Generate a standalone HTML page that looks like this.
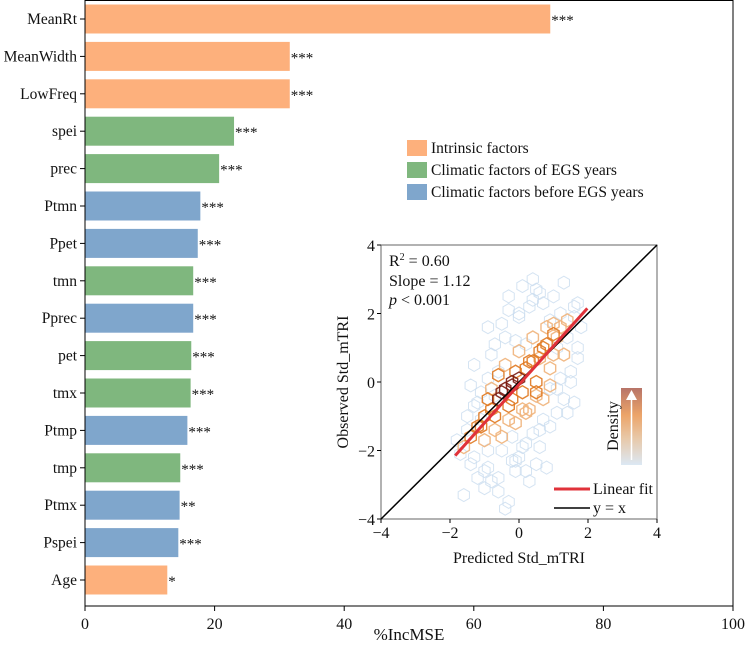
<!DOCTYPE html>
<html><head><meta charset="utf-8"><style>
body{margin:0;background:#fff}
svg text{font-family:"Liberation Serif",serif;fill:#111}
</style></head><body>
<svg id="c" width="748" height="643" viewBox="0 0 748 643" xmlns="http://www.w3.org/2000/svg"></svg>
<script>
const categories=["MeanRt","MeanWidth","LowFreq","spei","prec","Ptmn","Ppet","tmn","Pprec","pet","tmx","Ptmp","tmp","Ptmx","Pspei","Age"];
const values=[71.8,31.6,31.6,23.0,20.7,17.8,17.4,16.7,16.7,16.4,16.3,15.8,14.7,14.6,14.4,12.7];
const groups=["i","i","i","c","c","b","b","c","b","c","c","b","c","b","b","i"];
const sig=["***","***","***","***","***","***","***","***","***","***","***","***","***","**","***","*"];
const xTicks=[0,20,40,60,80,100];
const groupNames=["Intrinsic factors","Climatic factors of EGS years","Climatic factors before EGS years"];
// hexbins: [predicted, observed, densityLevel 0-3]
const hexX=[-1.4,-1.2,-1.0,-0.8,-0.6,-0.4,-0.2,0,0.2,0.4,0.6,0.8,1.0,1.2,1.4,1.6,-1.6,-1.3,-0.9,-0.5,-0.1,0.3,0.7,1.1,1.5,-1.1,-0.7,-0.3,0.1,0.5,0.9,1.3,-0.9,-0.5,-0.1,0.3,0.7,1.1,-0.7,-0.3,0.1,0.5,0.9,-1.2,-0.8,-0.4,0,0.4,0.8,1.2,-0.6,-0.2,0.2,0.6,1.0,-1.0,-0.6,-0.2,0.2,0.6,-0.8,-0.4,0,0.4,-1.3,-0.9,0.2,0.9,1.4,-1.6,-0.4,-0.9,0.6,1.7,-0.2,0.5,1.0,-1.0,
 -1.8,-1.7,-1.5,-1.4,-1.2,-1.1,-1.0,-0.8,-0.7,-0.6,-0.5,-0.3,-0.2,-0.1,0.0,0.1,0.3,0.4,0.5,0.7,0.8,0.9,1.1,1.2,1.3,1.5,1.6,1.7,1.8,-1.5,-1.3,-1.1,-0.9,-0.7,-0.5,-0.3,-0.1,0.1,0.3,0.5,0.7,1.0,1.3,1.6,-0.3,0.0,0.2,0.9,1.4,-1.4,-0.6,0.4,1.1,1.7,-0.1,0.6];
const hexY=[-1.6,-1.3,-1.0,-0.8,-0.5,-0.2,0.0,0.1,0.4,0.6,0.9,1.1,1.4,1.6,1.8,2.2,-1.9,-2.2,-2.0,-1.6,-1.2,-0.8,-0.5,-0.2,0.3,-1.3,-1.0,-0.7,-0.3,0.0,0.4,0.8,-0.5,-0.3,0.3,0.6,1.0,1.3,-1.4,-1.1,-0.8,-0.4,-0.1,-0.6,-0.2,0.5,0.9,1.3,1.6,2.0,0.2,-0.5,-0.9,0.7,0.8,-2.6,-2.8,-2.3,-1.8,-1.4,0.8,1.3,1.9,2.4,0.5,1.6,-2.6,-1.3,-0.9,-3.3,-3.7,-2.5,2.6,0.7,-0.1,-0.3,1.7,-1.7,
 -1.7,-2.1,-1.4,-2.4,-2.8,-1.1,-3.1,-2.9,-0.4,-3.2,-2.0,-3.5,-1.6,-2.6,-2.2,-1.9,-2.9,-1.5,-2.4,-1.1,-2.5,-0.2,-0.9,0.1,-0.5,0.0,-0.6,2.3,1.6,-1.0,-0.7,-0.3,0.1,1.1,1.7,2.1,1.2,2.8,2.2,2.7,2.3,2.5,2.9,1.9,2.5,2.0,1.1,1.8,1.3,-0.1,0.3,3.0,1.0,1.0,-2.3,-1.9];
const hexD=[2,2,2,2,3,3,3,3,2,2,2,2,2,1,1,0,1,0,0,1,1,1,1,0,0,2,2,2,2,2,1,1,2,3,2,2,2,1,1,1,1,1,1,0,1,1,1,1,1,0,2,2,1,1,1,0,0,0,0,0,0,0,0,0,0,0,0,0,0,0,0,0,0,0,3,2,1,1,
 0,0,0,0,0,0,0,0,0,0,0,0,0,0,0,0,0,0,0,0,0,0,0,0,0,0,0,0,0,0,0,0,0,0,0,0,0,0,0,0,0,0,0,0,0,0,0,0,0,0,0,0,0,0,0,0];
const fitX=[-1.85,1.98];const fitY=[-2.15,2.15];
const insetTicks=[-4,-2,0,2,4];

const S=document.getElementById('c');const NS="http://www.w3.org/2000/svg";
function el(t,a,p){const e=document.createElementNS(NS,t);for(const k in a)e.setAttribute(k,a[k]);(p||S).appendChild(e);return e;}
const X0=85,X1=733,Ytop=0,Ybot=606;
const xs=v=>X0+(X1-X0)*v/100;
const rowC=i=>19+i*37.4;
const col={i:"#FDB07C",c:"#7FB77E",b:"#7FA6CC"};
categories.forEach((c,i)=>{
 const y=rowC(i);
 const r=el('rect',{x:X0,y:y-14.5,width:xs(values[i])-X0,height:29,fill:col[groups[i]]});
 
 const s=el('text',{x:xs(values[i])+1,y:y+6,'font-size':15});s.textContent=sig[i];
 
 el('line',{x1:X0-5,x2:X0,y1:y,y2:y,stroke:'#000'});
 const t=el('text',{x:X0-8,y:y+5,'font-size':15.5,'text-anchor':'end'});t.textContent=c;
 
});
el('line',{x1:X0,x2:X0,y1:0,y2:Ybot,stroke:'#000'});
el('line',{x1:X1,x2:X1,y1:0,y2:Ybot,stroke:'#000'});
el('line',{x1:X0,x2:X1,y1:Ybot,y2:Ybot,stroke:'#000'});
el('line',{x1:X0,x2:X1,y1:0.5,y2:0.5,stroke:'#000'});
xTicks.forEach(v=>{el('line',{x1:xs(v),x2:xs(v),y1:Ybot,y2:Ybot+5,stroke:'#000'});
 const t=el('text',{x:xs(v),y:Ybot+23,'font-size':16,'text-anchor':'middle'});t.textContent=v;
 });
const xt=el('text',{x:409,y:640,'font-size':17,'text-anchor':'middle'});xt.textContent="%IncMSE";

// legend
groupNames.forEach((n,i)=>{const y=148+i*22;
 const r=el('rect',{x:407,y:y-8,width:20,height:16,fill:col[["i","c","b"][i]]});
 
 const t=el('text',{x:431,y:y+5,'font-size':15.5});t.textContent=n;
 });
// inset
const IX0=381,IX1=657,IY0=245,IY1=519;
const ix=v=>IX0+(IX1-IX0)*(v+4)/8, iy=v=>IY1-(IY1-IY0)*(v+4)/8;
el('rect',{x:IX0,y:IY0,width:IX1-IX0,height:IY1-IY0,fill:'#fff',stroke:'#666'});
const hcol=["#c9dcef","#f0b27a","#e0781f","#7a1a10"];
const order=hexX.map((_,i)=>i).sort((a,b)=>hexD[a]-hexD[b]);
order.forEach(i=>{const cx=ix(hexX[i]),cy=iy(hexY[i]),R=6.5;let p="";
 for(let k=0;k<6;k++){const a=Math.PI/3*k+Math.PI/6;p+=(cx+R*Math.cos(a))+","+(cy+R*Math.sin(a))+" ";}
 const h=el('polygon',{points:p,fill:'none',stroke:hcol[hexD[i]],'stroke-width':hexD[i]?1.4:1,opacity:hexD[i]?0.9:0.8});
 });
const l1=el('line',{x1:ix(-4),y1:iy(-4),x2:ix(4),y2:iy(4),stroke:'#000','stroke-width':1.5});

const l2=el('line',{x1:ix(fitX[0]),y1:iy(fitY[0]),x2:ix(fitX[1]),y2:iy(fitY[1]),stroke:'#e0323a','stroke-width':3});

insetTicks.forEach(v=>{
 el('line',{x1:ix(v),x2:ix(v),y1:IY1,y2:IY1+4,stroke:'#000'});
 let t=el('text',{x:ix(v),y:IY1+19,'font-size':16,'text-anchor':'middle'});t.textContent=(v<0?"−":"")+Math.abs(v);
 
 el('line',{x1:IX0-4,x2:IX0,y1:iy(v),y2:iy(v),stroke:'#000'});
 t=el('text',{x:IX0-6,y:iy(v)+6,'font-size':16,'text-anchor':'end'});t.textContent=(v<0?"−":"")+Math.abs(v);
 });
let t=el('text',{x:519,y:563,'font-size':16,'text-anchor':'middle'});t.textContent="Predicted Std_mTRI";

t=el('text',{x:0,y:0,'font-size':16,'text-anchor':'middle',transform:'translate(348,382) rotate(-90)'});t.textContent="Observed Std_mTRI";

t=el('text',{x:389,y:266,'font-size':16});t.innerHTML='R<tspan font-size="10" dy="-6">2</tspan><tspan dy="6"> = 0.60</tspan>';

t=el('text',{x:389,y:286,'font-size':16});t.textContent="Slope = 1.12";

t=el('text',{x:389,y:305,'font-size':16});t.innerHTML='<tspan font-style="italic">p</tspan> &lt; 0.001';

// density bar
const defs=el('defs',{});const g=el('linearGradient',{id:'dg',x1:0,y1:1,x2:0,y2:0},defs);
el('stop',{offset:0,'stop-color':'#dce8f4'},g);el('stop',{offset:0.35,'stop-color':'#e8c8a8'},g);
el('stop',{offset:0.65,'stop-color':'#eca469'},g);el('stop',{offset:1,'stop-color':'#b77468'},g);
const db=el('rect',{x:621,y:388,width:21,height:77,fill:'url(#dg)'});

el('line',{x1:631.5,y1:460,x2:631.5,y2:395,stroke:'#fff','stroke-width':1.5});
el('polygon',{points:'626,400 631.5,390 637,400',fill:'#fff'});
t=el('text',{x:0,y:0,'font-size':16,'text-anchor':'middle',transform:'translate(618,426) rotate(-90)'});t.textContent="Density";

el('line',{x1:554,x2:590,y1:489,y2:489,stroke:'#e0323a','stroke-width':3});
t=el('text',{x:593,y:494,'font-size':16});t.textContent="Linear fit";

el('line',{x1:554,x2:590,y1:508,y2:508,stroke:'#000','stroke-width':1.5});
t=el('text',{x:593,y:513,'font-size':16});t.textContent="y = x";

</script>
</body></html>
